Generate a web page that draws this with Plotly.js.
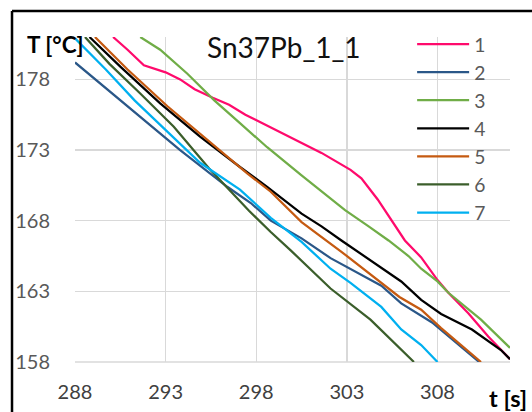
<!DOCTYPE html>
<html><head><meta charset="utf-8">
<script src="https://cdn.plot.ly/plotly-3.0.1.min.js"></script>
<style>html,body{margin:0;padding:0;background:#fff;overflow:hidden;} #chart{width:532px;height:412px;}</style>
</head><body><div id="chart"></div>
<script>
const seriesNames = ['1','2','3','4','5','6','7'];
const seriesColors = ['#ff0a6c','#2a5788','#70ad47','#000000','#c55a11','#3b5e2b','#00b0f0'];

const t1 = [290.1, 290.9, 291.8, 293.0, 293.8, 294.6, 295.6, 296.5, 297.4, 298.8, 300.5, 301.6, 303.2, 303.8, 304.7, 305.5, 306.2, 307.1, 308.0, 308.6, 309.7, 310.8, 312.0];
const T1 = [181.0, 180.1, 179.0, 178.5, 178.0, 177.3, 176.7, 176.2, 175.5, 174.6, 173.5, 172.8, 171.6, 171.0, 169.5, 168.0, 166.6, 165.4, 163.8, 162.9, 161.45, 159.8, 158.2];

const t2 = [288.0, 289.4, 291.6, 293.8, 296.4, 297.7, 298.8, 300.5, 302.1, 304.9, 306.0, 307.7, 310.3];
const T2 = [179.2, 177.7, 175.4, 173.0, 170.4, 169.25, 168.0, 166.75, 165.35, 163.4, 162.15, 160.8, 158.0];

const t3 = [291.6, 292.7, 294.2, 295.7, 297.1, 298.6, 300.5, 301.6, 302.9, 304.2, 305.3, 306.4, 307.1, 308.0, 308.6, 310.4, 312.0];
const T3 = [181.0, 180.1, 178.4, 176.5, 174.9, 173.2, 171.2, 170.05, 168.75, 167.6, 166.6, 165.5, 164.6, 163.7, 162.9, 161.0, 159.0];

const t4 = [288.8, 290.5, 292.7, 294.9, 297.1, 298.6, 300.5, 301.6, 302.7, 304.0, 306.0, 307.1, 308.2, 309.9, 311.5, 312.0];
const T4 = [181.0, 178.9, 176.3, 173.95, 171.8, 170.4, 168.5, 167.6, 166.6, 165.45, 163.7, 162.4, 161.4, 160.3, 158.85, 158.2];

const t5 = [289.1, 290.9, 293.1, 295.3, 297.5, 298.8, 300.5, 302.7, 303.2, 305.9, 307.1, 308.2, 309.3, 310.4];
const T5 = [181.0, 178.7, 176.1, 173.7, 171.35, 170.05, 167.9, 165.8, 165.3, 162.6, 161.7, 160.4, 159.2, 158.0];

const t6 = [288.55, 289.9, 291.6, 293.45, 295.4, 297.6, 298.8, 299.9, 302.1, 304.3, 306.7];
const T6 = [181.0, 179.1, 177.0, 174.65, 171.7, 168.7, 167.2, 165.9, 163.2, 161.0, 158.0];

const t7 = [288.0, 289.7, 291.3, 293.0, 294.9, 297.1, 298.8, 300.5, 302.1, 303.2, 304.9, 306.0, 307.1, 308.0];
const T7 = [180.9, 178.7, 176.5, 174.4, 172.1, 170.2, 168.2, 166.5, 164.6, 163.6, 161.9, 160.3, 159.2, 158.0];

const xTickVals = [288, 293, 298, 303, 308];
const yTickVals = [158, 163, 168, 173, 178];
const chartTitle = 'Sn37Pb_1_1';
const xTitle = 't [s]';
const yTitle = 'T [°C]';

const tData = [t1, t2, t3, t4, t5, t6, t7];
const TData = [T1, T2, T3, T4, T5, T6, T7];

const FONT = 'Lato, "Open Sans", sans-serif';

const traces = seriesNames.map((n, i) => ({
  type: 'scatter', mode: 'lines', name: n,
  x: tData[i], y: TData[i],
  line: {color: seriesColors[i], width: 2.25},
  hoverinfo: 'skip'
}));

const layout = {
  width: 532, height: 412,
  margin: {l: 75, r: 22, t: 37, b: 50, pad: 0},
  paper_bgcolor: '#fff', plot_bgcolor: '#fff',
  font: {family: FONT, size: 20, color: '#595959'},
  showlegend: true,
  legend: {
    x: 0.775, xanchor: 'left', y: 1.037, yanchor: 'top',
    bgcolor: 'rgba(255,255,255,0)', borderwidth: 0,
    font: {family: FONT, size: 19.3, color: '#595959'},
    itemwidth: 52, tracegroupgap: 0
  },
  xaxis: {
    range: [288, 312], tickvals: xTickVals, ticktext: xTickVals.map(String),
    showgrid: true, gridcolor: '#d9d9d9', gridwidth: 1.5,
    zeroline: false, showline: false,
    ticks: 'outside', ticklen: 12, tickcolor: 'rgba(0,0,0,0)',
    tickfont: {family: FONT, size: 20, color: '#404040'}
  },
  yaxis: {
    range: [158, 181], tickvals: yTickVals, ticktext: yTickVals.map(String),
    showgrid: true, gridcolor: '#d9d9d9', gridwidth: 1.5,
    zeroline: false, showline: false,
    ticks: 'outside', ticklen: 20, tickcolor: 'rgba(0,0,0,0)',
    tickfont: {family: FONT, size: 20, color: '#595959'}
  },
  shapes: [
    {type: 'line', xref: 'paper', yref: 'paper', x0: 0, x1: 1, y0: 0, y1: 0, line: {color: '#d9d9d9', width: 1.5}, layer: 'below'},
    {type: 'line', xref: 'paper', yref: 'paper', x0: -0.1448, x1: 1.2, y0: 1.08, y1: 1.08, line: {color: '#000', width: 2.5}},
    {type: 'line', xref: 'paper', yref: 'paper', x0: -0.1448, x1: -0.1448, y0: 1.08, y1: -0.3, line: {color: '#000', width: 2.5}}
  ],
  annotations: [
    {text: chartTitle, xref: 'paper', yref: 'paper', x: 0.48, y: 0.969, xanchor: 'center', yanchor: 'middle', showarrow: false,
     font: {family: FONT, size: 28, color: '#111'}},
    {text: '<b>' + yTitle + '</b>', xref: 'paper', yref: 'paper', x: -0.116, y: 0.978, xanchor: 'left', yanchor: 'middle', showarrow: false,
     font: {family: FONT, size: 22.5, color: '#000'}},
    {text: '<b>' + xTitle + '</b>', xref: 'paper', yref: 'paper', x: 0.946, y: -0.111, xanchor: 'left', yanchor: 'middle', showarrow: false,
     font: {family: FONT, size: 23.5, color: '#000'}}
  ]
};

Plotly.newPlot('chart', traces, layout, {displayModeBar: false, staticPlot: true});
</script>
</body></html>
